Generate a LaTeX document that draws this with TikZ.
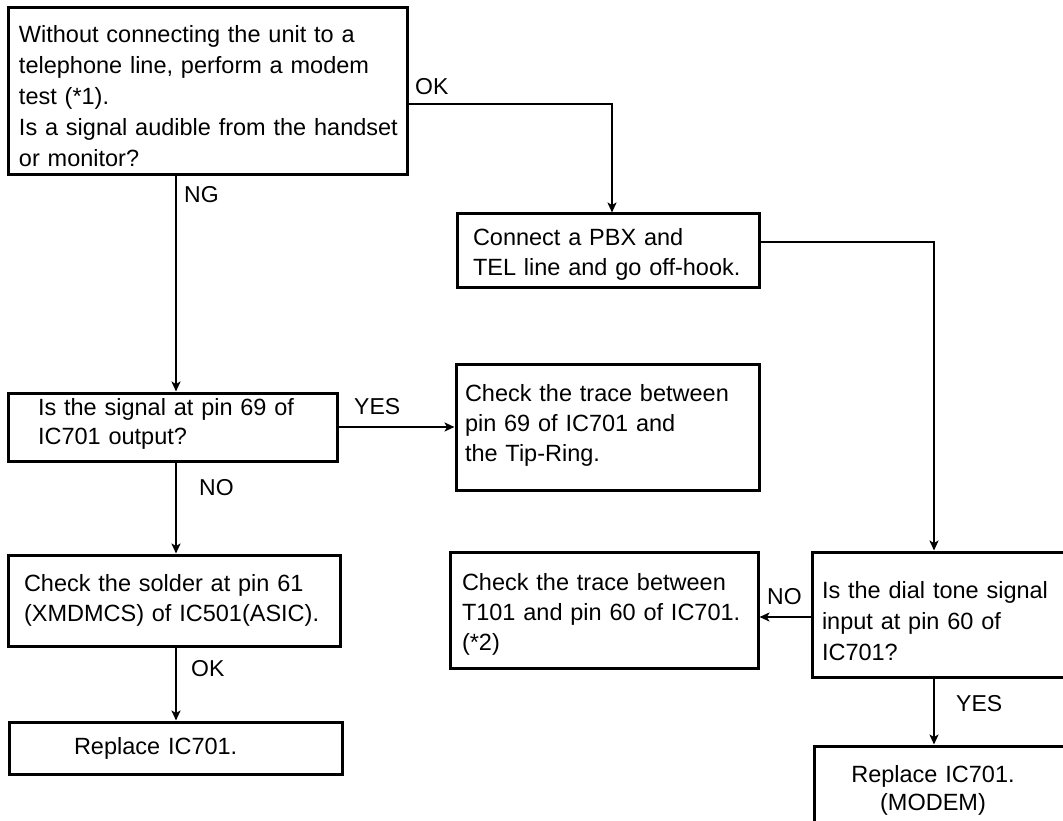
\documentclass[tikz,border=0pt]{standalone}
\usepackage{fontspec}
\setmainfont{Liberation Sans}
\usetikzlibrary{arrows.meta}
\newcommand\topgap[1]{\rule{0pt}{#1}}
\newcommand\botgap[1]{\rule[-#1]{0pt}{#1}}
\begin{document}
\begin{tikzpicture}[x=1pt,y=-1pt,
  box/.style={draw, line width=3pt, rectangle, align=left, inner ysep=0pt,
    font=\fontsize{23.5}{30}\selectfont},
  conn/.style={line width=2.4pt},
  arr/.style={conn, -{Stealth[length=10pt,width=9pt,inset=2.5pt]}},
  lab/.style={anchor=west, inner sep=0pt, font=\fontsize{23}{27}\selectfont}]
\useasboundingbox (0,0) rectangle (1063,821);
% boxes
\node[box, font=\fontsize{23.5}{31}\selectfont, minimum width=399pt, minimum height=167pt, inner xsep=11pt, text width=377pt] (A) at (207.5,91.5)
  {\topgap{26pt}\mbox{Without connecting the unit to a}\\\mbox{telephone line, perform a modem}\\\mbox{test (*1).}\\\mbox{Is a signal audible from the handset}\\\mbox{or monitor?}};
\node[box, minimum width=302pt, minimum height=73pt, inner xsep=16pt, text width=270pt] (B) at (608,250.5)
  {\topgap{25pt}\mbox{Connect a PBX and}\\\mbox{TEL line and go off-hook.}};
\node[box, font=\fontsize{23.5}{29}\selectfont, minimum width=329pt, minimum height=68pt, inner xsep=30pt, text width=269pt] (C) at (172.5,427)
  {\mbox{Is the signal at pin 69 of}\\\mbox{IC701 output?}\botgap{11pt}};
\node[box, minimum width=303pt, minimum height=126pt, inner xsep=9pt, text width=285pt] (D) at (607.5,427)
  {\mbox{Check the trace between}\\\mbox{pin 69 of IC701 and}\\\mbox{the Tip-Ring.}\botgap{9pt}};
\node[box, minimum width=332pt, minimum height=91pt, inner xsep=16pt, text width=300pt] (E) at (174,600.5)
  {\mbox{Check the solder at pin 61}\\\mbox{(XMDMCS) of IC501(ASIC).}};
\node[box, minimum width=333pt, minimum height=52pt, inner xsep=65pt, text width=203pt] (F) at (175.5,748)
  {\mbox{Replace IC701.}};
\node[box, minimum width=308pt, minimum height=116pt, inner xsep=12pt, text width=284pt] (G) at (604,610)
  {\topgap{25pt}\mbox{Check the trace between}\\\mbox{T101 and pin 60 of IC701.}\\\mbox{(*2)}};
\node[box, font=\fontsize{23.5}{31}\selectfont, minimum width=278pt, minimum height=125pt, inner xsep=10pt, text width=258pt] (H) at (951,614.5)
  {\topgap{30pt}\mbox{Is the dial tone signal}\\\mbox{input at pin 60 of}\\\mbox{IC701?}};
\node[box, font=\fontsize{23.5}{28}\selectfont, minimum width=276pt, minimum height=94pt, inner xsep=34pt, text width=208pt] (I) at (952,793)
  {\makebox[170pt][c]{Replace IC701.}\\\makebox[170pt][c]{(MODEM)}\botgap{10pt}};
% connectors
\draw[arr] (A.south -| 176,0) -- (C.north -| 176,0);
\node[lab] (lNG) at (184,195) {NG};
\draw[arr] (A.east |- 0,104) -| (B.north -| 612,0);
\node[lab] (lOK1) at (415,87) {OK};
\draw[arr] (B.east |- 0,242) -| (H.north -| 934,0);
\draw[arr] (C.east) -- (D.west);
\node[lab] (lYES1) at (354,407) {YES};
\draw[arr] (C.south -| 176,0) -- (E.north -| 176,0);
\node[lab] (lNO1) at (199,488) {NO};
\draw[arr] (E.south -| 176,0) -- (F.north -| 176,0);
\node[lab] (lOK2) at (191,669) {OK};
\draw[arr] (H.west |- 0,617) -- (G.east |- 0,617);
\node[lab] (lNO2) at (767,597) {NO};
\draw[arr] (H.south -| 934,0) -- (I.north -| 934,0);
\node[lab] (lYES2) at (956,704) {YES};
\end{tikzpicture}
\end{document}
